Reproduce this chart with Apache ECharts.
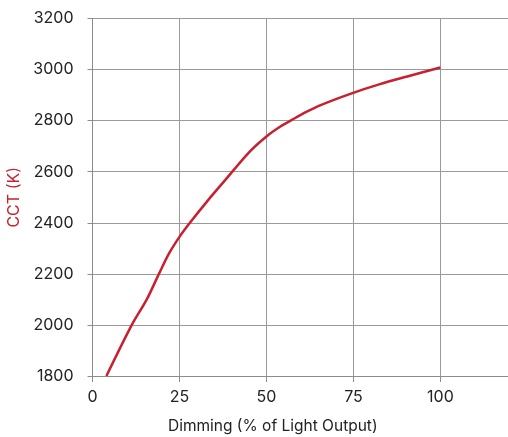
<!DOCTYPE html>
<html>
<head>
<meta charset="utf-8">
<script src="https://cdn.jsdelivr.net/npm/echarts@6/dist/echarts.min.js"></script>
<style>html,body{margin:0;padding:0;background:#fff}#c{width:508px;height:437px}</style>
</head>
<body>
<div id="c"></div>
<script>
const dimming = [4, 11.3, 15.6, 19.1, 22, 25, 28, 33, 38, 45, 50, 54, 57.2, 61, 65.4, 74.5, 82.4, 91, 100];
const cct = [1800, 2000, 2100, 2200, 2280, 2345, 2400, 2485, 2565, 2676, 2738, 2777, 2802, 2831, 2860, 2907, 2942, 2975, 3008];
const xTicks = [0, 25, 50, 75, 100];
const yTicks = [1800, 2000, 2200, 2400, 2600, 2800, 3000, 3200];

const chart = echarts.init(document.getElementById('c'));
const font = 'Inter';
chart.setOption({
  animation: false,
  grid: { left: 92.5, right: -2, top: 18.5, bottom: 61, outerBoundsMode: 'none', containLabel: false },
  xAxis: {
    type: 'value', min: 0, max: 120, interval: 25,
    axisLine: { show: true, lineStyle: { color: '#8c8c8c', width: 1 } },
    axisTick: { show: true, length: 6, lineStyle: { color: '#8c8c8c' } },
    splitLine: { show: true, lineStyle: { color: '#9a9a9a', width: 1 } },
    axisLabel: {
      color: '#222', fontFamily: font, fontSize: 16, margin: 13,
      formatter: v => xTicks.includes(v) ? String(v) : ''
    }
  },
  yAxis: {
    type: 'value', min: 1800, max: 3200, interval: 200,
    name: 'CCT (K)', nameLocation: 'middle', nameGap: 66,
    nameTextStyle: { color: '#c8202f', fontFamily: font, fontSize: 16 },
    axisLine: { show: true, lineStyle: { color: '#8c8c8c', width: 1 } },
    axisTick: { show: true, length: 5, lineStyle: { color: '#8c8c8c' } },
    splitLine: { show: true, lineStyle: { color: '#9a9a9a', width: 1 } },
    axisLabel: {
      color: '#222', fontFamily: font, fontSize: 16, margin: 19,
      formatter: v => yTicks.includes(v) ? String(v) : ''
    }
  },
  graphic: [{
    type: 'text', left: 168, top: 418,
    style: { text: 'Dimming (% of Light Output)', fill: '#222', font: '15.5px ' + font }
  }],
  series: [{
    type: 'line', smooth: 0.3, symbol: 'none',
    data: dimming.map((d, i) => [d, cct[i]]),
    lineStyle: { color: '#c8202f', width: 2.5 }
  }]
});
</script>
</body>
</html>
